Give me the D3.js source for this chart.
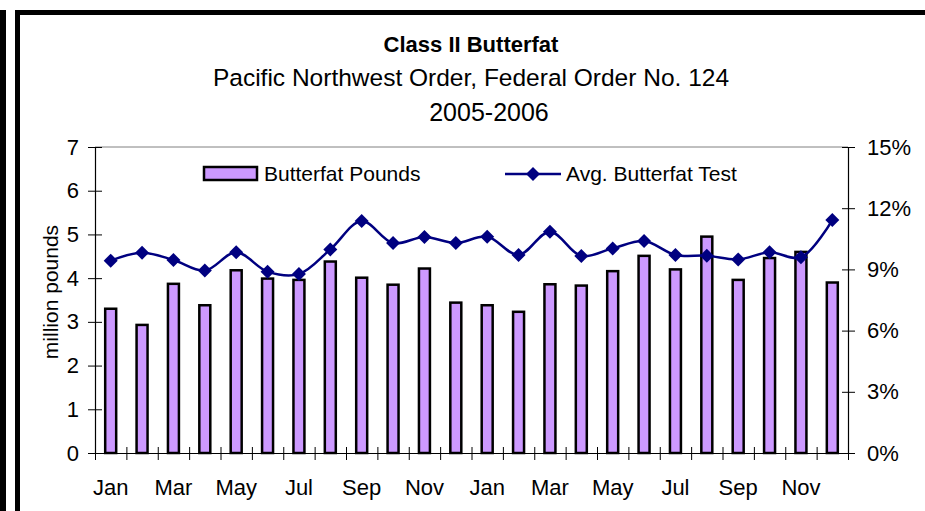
<!DOCTYPE html>
<html>
<head>
<meta charset="utf-8">
<script src="https://cdn.jsdelivr.net/npm/d3@7"></script>
<style>
	body { margin: 0; background: #fff; }
	svg { display: block; font-family: "Liberation Sans", Arial, sans-serif; }
</style>
</head>
<body>
<div id="chart"></div>
<script>
	// data
	var months = ["Jan", "Feb", "Mar", "Apr", "May", "Jun", "Jul", "Aug", "Sep", "Oct", "Nov", "Dec",
		"Jan", "Feb", "Mar", "Apr", "May", "Jun", "Jul", "Aug", "Sep", "Oct", "Nov", "Dec"];
	var pounds = [3.30, 2.93, 3.87, 3.38, 4.18, 3.99, 3.96, 4.38, 4.01, 3.85, 4.22, 3.44,
		3.38, 3.23, 3.86, 3.83, 4.16, 4.51, 4.20, 4.95, 3.96, 4.46, 4.60, 3.90];
	var test = [9.43, 9.82, 9.46, 8.94, 9.84, 8.89, 8.77, 9.98, 11.37, 10.29, 10.59, 10.29,
		10.60, 9.71, 10.85, 9.66, 10.03, 10.39, 9.71, 9.67, 9.49, 9.84, 9.59, 11.42];
	var leftTicks = [0, 1, 2, 3, 4, 5, 6, 7];
	var rightTicks = [0, 3, 6, 9, 12, 15];

	var W = 925, H = 511;
	var margin = { top: 147, right: 77, bottom: 58, left: 95 },
		width = W - margin.left - margin.right,
		height = H - margin.top - margin.bottom;

	var svg = d3.select("#chart").append("svg")
		.attr("width", W)
		.attr("height", H);

	// frame borders
	svg.append("rect").attr("x", 0).attr("y", 10).attr("width", 6).attr("height", H).attr("fill", "#000");
	svg.append("rect").attr("x", 15).attr("y", 10).attr("width", W).attr("height", 5).attr("fill", "#000");
	svg.append("rect").attr("x", 15).attr("y", 10).attr("width", 5).attr("height", H).attr("fill", "#000");

	// titles
	svg.append("text").attr("x", 471).attr("y", 52).attr("text-anchor", "middle")
		.style("font-size", "22px").style("font-weight", "bold").text("Class II Butterfat");
	svg.append("text").attr("x", 471).attr("y", 86).attr("text-anchor", "middle")
		.style("font-size", "24.5px").text("Pacific Northwest Order, Federal Order No. 124");
	svg.append("text").attr("x", 489).attr("y", 121).attr("text-anchor", "middle")
		.style("font-size", "25px").text("2005-2006");

	var g = svg.append("g")
		.attr("transform", "translate(" + margin.left + "," + margin.top + ")");

	// scales
	var idx = d3.range(months.length);
	var x = d3.scaleBand().domain(idx).range([0, width]).paddingInner(0.65).paddingOuter(0.325);
	var xEdge = d3.scaleLinear().domain([0, months.length]).range([0, width]);
	var y = d3.scaleLinear().domain([0, 7]).range([height, 0]);
	var y2 = d3.scaleLinear().domain([0, 15]).range([height, 0]);

	// plot area top border
	g.append("line").attr("x1", 0).attr("x2", width).attr("y1", 0).attr("y2", 0)
		.attr("stroke", "#808080").attr("stroke-width", 1);

	// bars
	g.selectAll(".bar")
		.data(pounds)
		.enter().append("rect")
		.attr("class", "bar")
		.attr("x", function (d, i) { return x(i); })
		.attr("y", function (d) { return y(d); })
		.attr("width", x.bandwidth())
		.attr("height", function (d) { return height - y(d); })
		.attr("fill", "#CC99FF")
		.attr("stroke", "#000")
		.attr("stroke-width", 2.5);

	// line (smoothed like excel)
	var line = d3.line()
		.x(function (d, i) { return x(i) + x.bandwidth() / 2; })
		.y(function (d) { return y2(d); })
		.curve(d3.curveCatmullRom.alpha(0.5));

	g.append("path")
		.datum(test)
		.attr("fill", "none")
		.attr("stroke", "#000080")
		.attr("stroke-width", 2.5)
		.attr("d", line);

	var diamond = "M0,-7L7,0L0,7L-7,0Z";
	g.selectAll(".dot")
		.data(test)
		.enter().append("path")
		.attr("class", "dot")
		.attr("d", diamond)
		.attr("transform", function (d, i) {
			return "translate(" + (x(i) + x.bandwidth() / 2) + "," + y2(d) + ")";
		})
		.attr("fill", "#000080");

	// left axis
	var yAxis = g.append("g")
		.call(d3.axisLeft(y).tickValues(leftTicks).tickSize(7).tickPadding(9).tickSizeOuter(0)
			.tickFormat(d3.format("d")));
	yAxis.selectAll(".tick line").attr("x2", -7).attr("x1", 7);
	yAxis.selectAll("text").style("font-size", "22px").attr("fill", "#000");

	// right axis
	var y2Axis = g.append("g")
		.attr("transform", "translate(" + width + ",0)")
		.call(d3.axisRight(y2).tickValues(rightTicks).tickSize(7).tickPadding(12).tickSizeOuter(0)
			.tickFormat(function (d) { return d + "%"; }));
	y2Axis.selectAll(".tick line").attr("x1", -6).attr("x2", 7);
	y2Axis.selectAll("text").style("font-size", "22px").attr("fill", "#000");

	// bottom axis: ticks between months, labels every other month
	var xAxis = g.append("g")
		.attr("transform", "translate(0," + height + ")")
		.call(d3.axisBottom(xEdge).tickValues(d3.range(months.length + 1)).tickSize(7)
			.tickFormat("").tickSizeOuter(0));
	xAxis.selectAll(".tick line").attr("y1", -6).attr("y2", 7);

	var xLabels = g.append("g")
		.attr("transform", "translate(0," + height + ")")
		.call(d3.axisBottom(x).tickSize(0).tickPadding(26)
			.tickFormat(function (d) { return d % 2 === 0 ? months[d] : ""; }));
	xLabels.select(".domain").remove();
	xLabels.selectAll("text").style("font-size", "22px").attr("fill", "#000");

	g.selectAll(".domain").attr("stroke", "#000").attr("stroke-width", 1.2);
	g.selectAll(".tick line").attr("stroke", "#000");

	// y axis title
	svg.append("text")
		.attr("transform", "translate(58,292) rotate(-90)")
		.attr("text-anchor", "middle")
		.style("font-size", "21px")
		.text("million pounds");

	// legend
	var legend = svg.append("g");
	legend.append("rect").attr("x", 204).attr("y", 167).attr("width", 53).attr("height", 13)
		.attr("fill", "#CC99FF").attr("stroke", "#000").attr("stroke-width", 2.5);
	legend.append("text").attr("x", 264).attr("y", 181).style("font-size", "21px").text("Butterfat Pounds");
	legend.append("line").attr("x1", 505).attr("x2", 561).attr("y1", 174).attr("y2", 174)
		.attr("stroke", "#000080").attr("stroke-width", 2.5);
	legend.append("path").attr("d", diamond).attr("transform", "translate(533,174)").attr("fill", "#000080");
	legend.append("text").attr("x", 566).attr("y", 181).style("font-size", "21px").text("Avg. Butterfat Test");
</script>
</body>
</html>
